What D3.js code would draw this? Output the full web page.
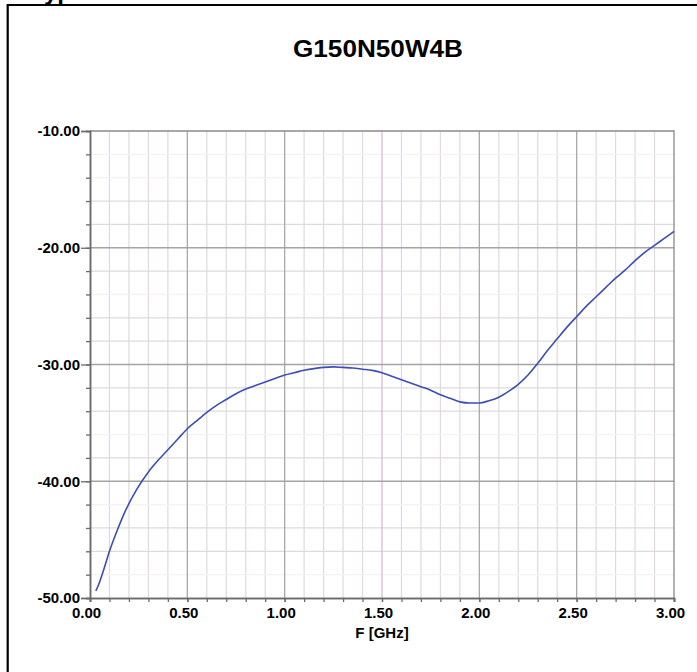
<!DOCTYPE html>
<html>
<head>
<meta charset="utf-8">
<script src="https://cdn.jsdelivr.net/npm/d3@7"></script>
<style>
  body { margin: 0; background: #fff; }
  text { font-family: "Liberation Sans", Arial, sans-serif; font-weight: bold; }
</style>
</head>
<body>
<script>
// measured curve, F in GHz, response in dB
var freq = [0.03, 0.05, 0.07, 0.10, 0.14, 0.18, 0.24, 0.30, 0.35, 0.40, 0.45, 0.50,
  0.55, 0.60, 0.65, 0.70, 0.75, 0.80, 0.85, 0.90, 0.95, 1.00, 1.05, 1.10, 1.15, 1.20,
  1.25, 1.30, 1.35, 1.40, 1.45, 1.50, 1.55, 1.60, 1.65, 1.70, 1.75, 1.80, 1.85, 1.90,
  1.95, 2.00, 2.05, 2.10, 2.15, 2.20, 2.25, 2.30, 2.35, 2.40, 2.45, 2.50, 2.55, 2.60,
  2.65, 2.70, 2.75, 2.80, 2.85, 2.90, 2.95, 3.00];
var db = [-49.4, -48.6, -47.6, -46.0, -44.2, -42.6, -40.7, -39.2, -38.2, -37.3, -36.4, -35.5,
  -34.8, -34.1, -33.5, -33.0, -32.5, -32.1, -31.8, -31.5, -31.2, -30.9, -30.7, -30.5, -30.35, -30.25,
  -30.2, -30.25, -30.3, -30.4, -30.5, -30.7, -31.0, -31.3, -31.6, -31.9, -32.2, -32.6, -32.9, -33.2,
  -33.3, -33.3, -33.1, -32.8, -32.3, -31.7, -30.9, -29.9, -28.8, -27.8, -26.8, -25.9, -25.0, -24.2,
  -23.4, -22.6, -21.9, -21.1, -20.4, -19.8, -19.2, -18.6];

var title = "G150N50W4B";
var xTicksMajor = [0, 0.5, 1.0, 1.5, 2.0, 2.5, 3.0];
var xTicksMinor = d3.range(0, 31).map(function(i){ return i / 10; });
var yTicksMajor = [-10, -20, -30, -40, -50];
var yTicksMinor = d3.range(-10, -51, -2);
// minor horizontal lines that are barely visible in the picture
var yFaint = [-12, -14, -24, -36, -42, -48];

var width = 697, height = 672;
var pLeft = 90, pRight = 674, pTop = 131, pBottom = 598;

var svg = d3.select("body").append("svg")
    .attr("width", width)
    .attr("height", height);

svg.append("rect").attr("width", width).attr("height", height).attr("fill", "#fff");

var x = d3.scaleLinear().domain([0, 3]).range([pLeft, pRight]);
var y = d3.scaleLinear().domain([-50, -10]).range([pBottom, pTop]);

// plain hyphen minus, like the original
var fmt = function(d){ return d.toFixed(2); };

// cut off heading above the frame
svg.append("text")
    .attr("x", 31).attr("y", -0.5)
    .attr("font-size", 24)
    .text("Typical Performance");

// frame
svg.append("line").attr("x1", 7).attr("x2", width).attr("y1", 5).attr("y2", 5)
    .attr("stroke", "#000").attr("stroke-width", 2.2);
svg.append("line").attr("x1", 7.7).attr("x2", 7.7).attr("y1", 4).attr("y2", height)
    .attr("stroke", "#000").attr("stroke-width", 2.2);

// title
svg.append("text")
    .attr("x", 378).attr("y", 57)
    .attr("text-anchor", "middle")
    .attr("font-size", 24)
    .attr("textLength", 170)
    .attr("lengthAdjust", "spacingAndGlyphs")
    .text(title);

var grid = svg.append("g");

// minor vertical grid
grid.selectAll(".vmin")
    .data(xTicksMinor.filter(function(d){ return Math.round(d * 10) % 5 != 0; }))
    .enter().append("line")
    .attr("x1", function(d){ return x(d); })
    .attr("x2", function(d){ return x(d); })
    .attr("y1", pTop).attr("y2", pBottom)
    .attr("stroke", function(d, i){ return i % 3 == 0 ? "#e6d4e4" : "#dedadd"; })
    .attr("stroke-width", 1.2);

// minor horizontal grid
grid.selectAll(".hmin")
    .data(yTicksMinor.filter(function(d){ return d % 10 != 0; }))
    .enter().append("line")
    .attr("x1", pLeft).attr("x2", pRight)
    .attr("y1", function(d){ return y(d); })
    .attr("y2", function(d){ return y(d); })
    .attr("stroke", function(d){ return yFaint.indexOf(d) >= 0 ? "#f5f2f4" : "#dedadd"; })
    .attr("stroke-width", 1.2);

// major vertical grid
grid.selectAll(".vmaj")
    .data(xTicksMajor.slice(1, -1))
    .enter().append("line")
    .attr("x1", function(d){ return x(d); })
    .attr("x2", function(d){ return x(d); })
    .attr("y1", pTop).attr("y2", pBottom)
    .attr("stroke", function(d){ return d == 1.5 ? "#d4bdd2" : "#a9a9a9"; })
    .attr("stroke-width", 1.3);

// major horizontal grid
grid.selectAll(".hmaj")
    .data(yTicksMajor.slice(1, -1))
    .enter().append("line")
    .attr("x1", pLeft).attr("x2", pRight)
    .attr("y1", function(d){ return y(d); })
    .attr("y2", function(d){ return y(d); })
    .attr("stroke", "#a4a4a4")
    .attr("stroke-width", 1.3);

// top and right border of plot
svg.append("path")
    .attr("d", "M" + pLeft + "," + pTop + "H" + pRight + "V" + pBottom)
    .attr("fill", "none").attr("stroke", "#8a8a8a").attr("stroke-width", 1.3);

// axes
var yMinorAxis = d3.axisLeft(y).tickValues(yTicksMinor).tickSize(4).tickFormat("");
var yMajorAxis = d3.axisLeft(y).tickValues(yTicksMajor).tickSize(9).tickPadding(1)
    .tickFormat(fmt);
var xMinorAxis = d3.axisBottom(x).tickValues(xTicksMinor).tickSize(4).tickFormat("");
var xMajorAxis = d3.axisBottom(x).tickValues(xTicksMajor).tickSize(4).tickPadding(5)
    .tickFormat(fmt);

function styleAxis(g) {
  g.select(".domain").attr("stroke", "#6a6a6a").attr("stroke-width", 1.5);
  g.selectAll(".tick line").attr("stroke", "#6a6a6a").attr("stroke-width", 1.3);
  g.selectAll("text").attr("fill", "#000").attr("font-size", 15)
      .attr("font-family", "Liberation Sans, Arial, sans-serif").attr("font-weight", "bold");
}

svg.append("g").attr("transform", "translate(" + pLeft + ",0)").call(yMinorAxis).call(styleAxis);
svg.append("g").attr("transform", "translate(" + pLeft + ",0)").call(yMajorAxis).call(styleAxis);
svg.append("g").attr("transform", "translate(0," + pBottom + ")").call(xMinorAxis).call(styleAxis);
var xg = svg.append("g").attr("transform", "translate(0," + pBottom + ")").call(xMajorAxis).call(styleAxis);
xg.selectAll("text").attr("dx", -4);

// x axis title
svg.append("text")
    .attr("x", x(1.5)).attr("y", 638)
    .attr("text-anchor", "middle")
    .attr("font-size", 15)
    .text("F [GHz]");

// curve
var pts = freq.map(function(f, i){ return [f, db[i]]; });
var line = d3.line()
    .x(function(d){ return x(d[0]); })
    .y(function(d){ return y(d[1]); })
    .curve(d3.curveMonotoneX);

svg.append("path")
    .datum(pts)
    .attr("d", line)
    .attr("fill", "none")
    .attr("stroke", "#3d4db5")
    .attr("stroke-width", 1.6);
</script>
</body>
</html>
